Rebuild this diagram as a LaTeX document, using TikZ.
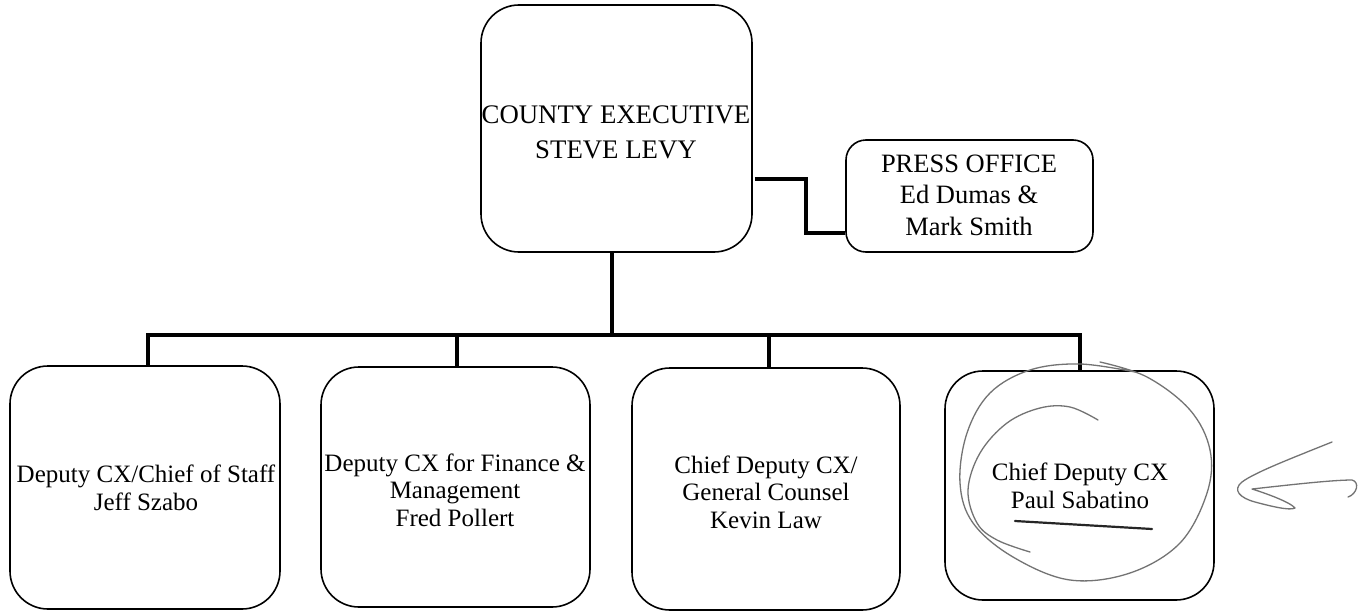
\documentclass[tikz,border=0pt]{standalone}
\usepackage{fontspec}
\setmainfont{Liberation Serif}
\begin{document}
\begin{tikzpicture}[x=1pt,y=-1pt,
  orgbox/.style={draw=black, line width=1.6pt, rounded corners=38pt, inner sep=0pt},
  pressbox/.style={draw=black, line width=1.6pt, rounded corners=20pt, inner sep=0pt},
  toptext/.style={align=center, inner sep=0pt, font=\fontsize{26.8}{35}\selectfont},
  presstext/.style={align=center, inner sep=0pt, font=\fontsize{26.5}{31.5}\selectfont},
  subtext/.style={align=center, inner sep=0pt, font=\fontsize{25}{27.5}\selectfont},
  link/.style={draw=black, line width=4.2pt},
  ink/.style={draw=black!55, line width=1.3pt, line cap=round, line join=round}]
\useasboundingbox (0,0) rectangle (1364,613);
\fill[white] (0,0) rectangle (1364,613);

% boxes
\node[orgbox, minimum width=271pt, minimum height=247pt] (top) at (616.5,128.5) {};
\node[pressbox, minimum width=247pt, minimum height=112pt] (press) at (969.5,196) {};
\node[orgbox, minimum width=270pt, minimum height=243pt] (b1) at (145,487.5) {};
\node[orgbox, minimum width=269pt, minimum height=240pt] (b2) at (455.5,487) {};
\node[orgbox, minimum width=268pt, minimum height=242pt] (b3) at (766,489) {};
\node[orgbox, minimum width=269pt, minimum height=229pt] (b4) at (1079.5,485.5) {};

% texts
\node[toptext] (ttop) at (616,132) {COUNTY EXECUTIVE\\STEVE LEVY};
\node[presstext] (tpress) at (969,195) {PRESS OFFICE\\Ed Dumas \&\\Mark Smith};
\node[subtext] (t1) at (146,488) {Deputy CX/Chief of Staff\\Jeff Szabo};
\node[subtext] (t2) at (455,490) {Deputy CX for Finance \&\\Management\\Fred Pollert};
\node[subtext] (t3) at (766,492) {Chief Deputy CX/\\General Counsel\\Kevin Law};
\node[subtext] (t4) at (1080,486) {Chief Deputy CX\\Paul Sabatino};

% connectors
\coordinate (tv) at (612,335);
\coordinate (d1) at (148,335);
\coordinate (d2) at (457,335);
\coordinate (d3) at (769,335);
\coordinate (d4) at (1080,335);
\draw[link] (tv |- top.south) -- (tv);
\draw[link] ([xshift=-2pt]d1) -- ([xshift=2pt]d4);
\draw[link] (d1) -- (d1 |- b1.north);
\draw[link] (d2) -- (d2 |- b2.north);
\draw[link] (d3) -- (d3 |- b3.north);
\draw[link] (d4) -- (d4 |- b4.north);

\coordinate (pk1) at (806,179);
\coordinate (pk2) at (806,233);
\draw[link, line join=miter] ([xshift=2pt]top.east |- pk1) -- (pk1) -- (pk2) -- (press.west |- pk2);

% hand-drawn annotations
\draw[ink] plot[smooth, tension=0.6] coordinates {(1135,372) (1080,364) (1030,370) (990,393) (967,433) (960,483) (973,523) (1013,557) (1070,580) (1130,573) (1180,543) (1207,493) (1210,450) (1190,410) (1147,377) (1100,362)};
\draw[ink] plot[smooth, tension=0.6] coordinates {(1098,420) (1070,407) (1040,408) (1007,423) (980,453) (968,490) (977,523) (997,540) (1030,552)};
\draw[line width=2.2pt, black!85, line cap=round] (1015,521) -- (1152,529);
\draw[ink] (1332,442) .. controls (1300,455) and (1255,472) .. (1242,482)
  .. controls (1232,490) and (1240,498) .. (1255,502)
  .. controls (1270,506) and (1290,511) .. (1295,508)
  .. controls (1290,502) and (1265,493) .. (1252,489)
  .. controls (1280,486) and (1330,480) .. (1352,480)
  .. controls (1360,482) and (1357,494) .. (1348,497);
\end{tikzpicture}
\end{document}
